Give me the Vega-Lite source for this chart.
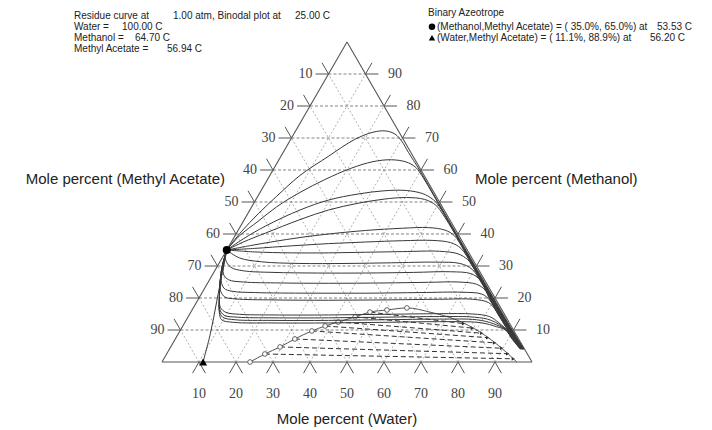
{
"$schema": "https://vega.github.io/schema/vega-lite/v6.json",
"autosize": {"type": "none"},
"width": 370, "height": 320,
"padding": {"left": 162, "top": 42, "right": 180, "bottom": 68},
"background": "white",
"config": {"view": {"stroke": null}},
"datasets": {
"frame": [{"x":0,"y":0,"x2":100,"y2":0},{"x":0,"y":0,"x2":50,"y2":100},{"x":100,"y":0,"x2":50,"y2":100}],
"gridH": [{"x":5,"y":10,"x2":95,"y2":10},{"x":10,"y":20,"x2":90,"y2":20},{"x":15,"y":30,"x2":85,"y2":30},{"x":20,"y":40,"x2":80,"y2":40},{"x":25,"y":50,"x2":75,"y2":50},{"x":30,"y":60,"x2":70,"y2":60},{"x":35,"y":70,"x2":65,"y2":70},{"x":40,"y":80,"x2":60,"y2":80},{"x":45,"y":90,"x2":55,"y2":90}],
"gridD": [{"x":10,"y":0,"x2":55,"y2":90},{"x":20,"y":0,"x2":60,"y2":80},{"x":30,"y":0,"x2":65,"y2":70},{"x":40,"y":0,"x2":70,"y2":60},{"x":50,"y":0,"x2":75,"y2":50},{"x":60,"y":0,"x2":80,"y2":40},{"x":70,"y":0,"x2":85,"y2":30},{"x":80,"y":0,"x2":90,"y2":20},{"x":90,"y":0,"x2":95,"y2":10},
{"x":10,"y":0,"x2":5,"y2":10},{"x":20,"y":0,"x2":10,"y2":20},{"x":30,"y":0,"x2":15,"y2":30},{"x":40,"y":0,"x2":20,"y2":40},{"x":50,"y":0,"x2":25,"y2":50},{"x":60,"y":0,"x2":30,"y2":60},{"x":70,"y":0,"x2":35,"y2":70},{"x":80,"y":0,"x2":40,"y2":80},{"x":90,"y":0,"x2":45,"y2":90}],
"ticks": [
{"x":1.5,"y":10,"x2":5,"y2":10},{"x":6.5,"y":20,"x2":10,"y2":20},{"x":11.5,"y":30,"x2":15,"y2":30},{"x":16.5,"y":40,"x2":20,"y2":40},{"x":21.5,"y":50,"x2":25,"y2":50},{"x":26.5,"y":60,"x2":30,"y2":60},{"x":31.5,"y":70,"x2":35,"y2":70},{"x":36.5,"y":80,"x2":40,"y2":80},{"x":41.5,"y":90,"x2":45,"y2":90},
{"x":5,"y":10,"x2":3.25,"y2":13.5},{"x":10,"y":20,"x2":8.25,"y2":23.5},{"x":15,"y":30,"x2":13.25,"y2":33.5},{"x":20,"y":40,"x2":18.25,"y2":43.5},{"x":25,"y":50,"x2":23.25,"y2":53.5},{"x":30,"y":60,"x2":28.25,"y2":63.5},{"x":35,"y":70,"x2":33.25,"y2":73.5},{"x":40,"y":80,"x2":38.25,"y2":83.5},{"x":45,"y":90,"x2":43.25,"y2":93.5},
{"x":95,"y":10,"x2":98.5,"y2":10},{"x":90,"y":20,"x2":93.5,"y2":20},{"x":85,"y":30,"x2":88.5,"y2":30},{"x":80,"y":40,"x2":83.5,"y2":40},{"x":75,"y":50,"x2":78.5,"y2":50},{"x":70,"y":60,"x2":73.5,"y2":60},{"x":65,"y":70,"x2":68.5,"y2":70},{"x":60,"y":80,"x2":63.5,"y2":80},{"x":55,"y":90,"x2":58.5,"y2":90},
{"x":95,"y":10,"x2":96.75,"y2":13.5},{"x":90,"y":20,"x2":91.75,"y2":23.5},{"x":85,"y":30,"x2":86.75,"y2":33.5},{"x":80,"y":40,"x2":81.75,"y2":43.5},{"x":75,"y":50,"x2":76.75,"y2":53.5},{"x":70,"y":60,"x2":71.75,"y2":63.5},{"x":65,"y":70,"x2":66.75,"y2":73.5},{"x":60,"y":80,"x2":61.75,"y2":83.5},{"x":55,"y":90,"x2":56.75,"y2":93.5},
{"x":10,"y":0,"x2":8.25,"y2":-3.5},{"x":20,"y":0,"x2":18.25,"y2":-3.5},{"x":30,"y":0,"x2":28.25,"y2":-3.5},{"x":40,"y":0,"x2":38.25,"y2":-3.5},{"x":50,"y":0,"x2":48.25,"y2":-3.5},{"x":60,"y":0,"x2":58.25,"y2":-3.5},{"x":70,"y":0,"x2":68.25,"y2":-3.5},{"x":80,"y":0,"x2":78.25,"y2":-3.5},{"x":90,"y":0,"x2":88.25,"y2":-3.5},
{"x":10,"y":0,"x2":11.75,"y2":-3.5},{"x":20,"y":0,"x2":21.75,"y2":-3.5},{"x":30,"y":0,"x2":31.75,"y2":-3.5},{"x":40,"y":0,"x2":41.75,"y2":-3.5},{"x":50,"y":0,"x2":51.75,"y2":-3.5},{"x":60,"y":0,"x2":61.75,"y2":-3.5},{"x":70,"y":0,"x2":71.75,"y2":-3.5},{"x":80,"y":0,"x2":81.75,"y2":-3.5},{"x":90,"y":0,"x2":91.75,"y2":-3.5}],
"labelsL": [{"x":0.7,"y":10,"t":"90"},{"x":5.7,"y":20,"t":"80"},{"x":10.7,"y":30,"t":"70"},{"x":15.7,"y":40,"t":"60"},{"x":20.7,"y":50,"t":"50"},{"x":25.7,"y":60,"t":"40"},{"x":30.7,"y":70,"t":"30"},{"x":35.7,"y":80,"t":"20"},{"x":40.7,"y":90,"t":"10"}],
"labelsR": [{"x":101.1,"y":10,"t":"10"},{"x":96.1,"y":20,"t":"20"},{"x":91.1,"y":30,"t":"30"},{"x":86.1,"y":40,"t":"40"},{"x":81.1,"y":50,"t":"50"},{"x":76.1,"y":60,"t":"60"},{"x":71.1,"y":70,"t":"70"},{"x":66.1,"y":80,"t":"80"},{"x":61.1,"y":90,"t":"90"}],
"labelsB": [{"x":10,"y":-10.1,"t":"10"},{"x":20,"y":-10.1,"t":"20"},{"x":30,"y":-10.1,"t":"30"},{"x":40,"y":-10.1,"t":"40"},{"x":50,"y":-10.1,"t":"50"},{"x":60,"y":-10.1,"t":"60"},{"x":70,"y":-10.1,"t":"70"},{"x":80,"y":-10.1,"t":"80"},{"x":90,"y":-10.1,"t":"90"}],
"titleL": [{"x":17.03,"y":57.2,"t":"Mole percent (Methyl Acetate)"}],
"titleR": [{"x":84.6,"y":57.2,"t":"Mole percent (Methanol)"}],
"titleB": [{"x":50,"y":-17.8,"t":"Mole percent (Water)"}],
"header": [
{"x":-23.78,"y":108.2,"t":"Residue curve at"},{"x":2.97,"y":108.2,"t":"1.00 atm, Binodal plot at"},{"x":35.95,"y":108.2,"t":"25.00 C"},
{"x":-23.78,"y":104.78,"t":"Water ="},{"x":-10.81,"y":104.78,"t":"100.00 C"},
{"x":-23.78,"y":101.34,"t":"Methanol ="},{"x":-7.3,"y":101.34,"t":"64.70 C"},
{"x":-23.78,"y":97.81,"t":"Methyl Acetate ="},{"x":1.35,"y":97.81,"t":"56.94 C"},
{"x":71.89,"y":108.97,"t":"Binary Azeotrope"},
{"x":74.32,"y":104.78,"t":"(Methanol,Methyl Acetate) = ( 35.0%, 65.0%) at"},{"x":133.78,"y":104.78,"t":"53.53 C"},
{"x":74.32,"y":101.34,"t":"(Water,Methyl Acetate) = ( 11.1%, 88.9%) at"},{"x":131.89,"y":101.34,"t":"56.20 C"}],
"azeo": [{"x":17.5,"y":35,"kind":"circle"},{"x":11.1,"y":0,"kind":"triangle"}],
"legendMarks": [{"x":72.97,"y":104.78,"kind":"circle"},{"x":72.97,"y":101.34,"kind":"triangle"}],
"binodal": [
{"x":23.8,"y":0,"b":"L"},{"x":27.8,"y":2.5,"b":"L"},{"x":31.9,"y":4.7,"b":"L"},{"x":35.9,"y":7.2,"b":"L"},{"x":40.5,"y":9.7,"b":"L"},{"x":44.1,"y":11.25,"b":"L"},{"x":47.6,"y":12.5,"b":"L"},{"x":52.2,"y":14.1,"b":"L"},{"x":56.2,"y":15.6,"b":"L"},{"x":60.8,"y":16.25,"b":"L"},{"x":66.2,"y":16.9,"b":"L"},
{"x":72.4,"y":15.6,"b":"R"},{"x":79.7,"y":13.1,"b":"R"},{"x":85.9,"y":9.4,"b":"R"},{"x":91.4,"y":4.7,"b":"R"},{"x":95.9,"y":0,"b":"R"}],
"ties": [
{"x":27.8,"y":2.5,"x2":94.94,"y2":1.0},{"x":31.9,"y":4.7,"x2":93.41,"y2":2.6},{"x":35.9,"y":7.2,"x2":91.79,"y2":4.3},{"x":40.5,"y":9.7,"x2":89.88,"y2":6.0},{"x":44.1,"y":11.25,"x2":88.0,"y2":7.6},{"x":47.6,"y":12.5,"x2":86.4,"y2":9.0},{"x":52.2,"y":14.1,"x2":83.9,"y2":10.6},{"x":56.2,"y":15.6,"x2":81.5,"y2":12.0}],
"curves": [
{"c":"C0","x":17.5,"y":35},{"c":"C0","x":16.3,"y":28},{"c":"C0","x":14.8,"y":19},{"c":"C0","x":13.1,"y":9},{"c":"C0","x":11.1,"y":0},
{"c":"C1","x":17.5,"y":35},{"c":"C1","x":21.5,"y":40.8},{"c":"C1","x":26,"y":46.3},{"c":"C1","x":31,"y":51.8},{"c":"C1","x":37.3,"y":58.3},{"c":"C1","x":45,"y":64.3},{"c":"C1","x":52,"y":69.5},{"c":"C1","x":57,"y":71.8},{"c":"C1","x":60.5,"y":72.2},{"c":"C1","x":63,"y":71.2},{"c":"C1","x":64.8,"y":69},{"c":"C1","x":66.6,"y":65.5},{"c":"C1","x":69.6,"y":60},{"c":"C1","x":74.6,"y":50},{"c":"C1","x":79.6,"y":40},{"c":"C1","x":84.6,"y":30},{"c":"C1","x":89.6,"y":20},{"c":"C1","x":92.1,"y":15},{"c":"C1","x":94.66,"y":10},{"c":"C1","x":96.22,"y":7},{"c":"C1","x":97.82,"y":4},
{"c":"C2","x":17.5,"y":35},{"c":"C2","x":21,"y":39.5},{"c":"C2","x":26,"y":44},{"c":"C2","x":31,"y":48.5},{"c":"C2","x":37.3,"y":53},{"c":"C2","x":44,"y":57},{"c":"C2","x":51,"y":60.5},{"c":"C2","x":57,"y":62.6},{"c":"C2","x":62,"y":63.2},{"c":"C2","x":66,"y":62.5},{"c":"C2","x":68.4,"y":61},{"c":"C2","x":69.8,"y":59},{"c":"C2","x":74.45,"y":50},{"c":"C2","x":79.45,"y":40},{"c":"C2","x":84.45,"y":30},{"c":"C2","x":89.45,"y":20},{"c":"C2","x":91.95,"y":15},{"c":"C2","x":94.53,"y":10},{"c":"C2","x":96.12,"y":7},{"c":"C2","x":97.75,"y":4},
{"c":"C3","x":17.5,"y":35},{"c":"C3","x":22,"y":38.5},{"c":"C3","x":28,"y":42.5},{"c":"C3","x":37.3,"y":47.5},{"c":"C3","x":45,"y":50.6},{"c":"C3","x":53,"y":52.5},{"c":"C3","x":60,"y":53.5},{"c":"C3","x":66,"y":53.6},{"c":"C3","x":70.5,"y":52.6},{"c":"C3","x":73,"y":51},{"c":"C3","x":74.5,"y":49.3},{"c":"C3","x":79.3,"y":40},{"c":"C3","x":84.3,"y":30},{"c":"C3","x":89.3,"y":20},{"c":"C3","x":91.8,"y":15},{"c":"C3","x":94.4,"y":10},{"c":"C3","x":96.01,"y":7},{"c":"C3","x":97.69,"y":4},
{"c":"C4","x":17.5,"y":35},{"c":"C4","x":22,"y":37.5},{"c":"C4","x":28,"y":40.3},{"c":"C4","x":37.3,"y":44.5},{"c":"C4","x":45,"y":47.5},{"c":"C4","x":53,"y":49.6},{"c":"C4","x":60,"y":50.9},{"c":"C4","x":66,"y":51.4},{"c":"C4","x":71,"y":50.8},{"c":"C4","x":74,"y":49},{"c":"C4","x":76,"y":46},{"c":"C4","x":79.2,"y":40},{"c":"C4","x":84.2,"y":30},{"c":"C4","x":89.2,"y":20},{"c":"C4","x":91.7,"y":15},{"c":"C4","x":94.32,"y":10},{"c":"C4","x":95.94,"y":7},{"c":"C4","x":97.64,"y":4},
{"c":"C5","x":17.5,"y":35},{"c":"C5","x":24,"y":36.4},{"c":"C5","x":30,"y":37.6},{"c":"C5","x":37.3,"y":38.9},{"c":"C5","x":45,"y":40},{"c":"C5","x":55,"y":41.1},{"c":"C5","x":65,"y":41.8},{"c":"C5","x":72,"y":42},{"c":"C5","x":76.5,"y":41.2},{"c":"C5","x":79,"y":39.5},{"c":"C5","x":81.55,"y":35},{"c":"C5","x":84.05,"y":30},{"c":"C5","x":89.05,"y":20},{"c":"C5","x":91.55,"y":15},{"c":"C5","x":94.19,"y":10},{"c":"C5","x":95.84,"y":7},{"c":"C5","x":97.57,"y":4},
{"c":"C6","x":17.5,"y":35},{"c":"C6","x":25,"y":35.5},{"c":"C6","x":35,"y":36.3},{"c":"C6","x":45,"y":37},{"c":"C6","x":55,"y":37.5},{"c":"C6","x":65,"y":37.9},{"c":"C6","x":73,"y":38},{"c":"C6","x":78,"y":37.3},{"c":"C6","x":80.8,"y":35.5},{"c":"C6","x":83.95,"y":30},{"c":"C6","x":88.95,"y":20},{"c":"C6","x":91.45,"y":15},{"c":"C6","x":94.11,"y":10},{"c":"C6","x":95.77,"y":7},{"c":"C6","x":97.53,"y":4},
{"c":"C7","x":17.5,"y":35},{"c":"C7","x":25,"y":34.4},{"c":"C7","x":35,"y":34.1},{"c":"C7","x":45,"y":34.1},{"c":"C7","x":55,"y":34.3},{"c":"C7","x":65,"y":34.5},{"c":"C7","x":75,"y":34.6},{"c":"C7","x":80,"y":33.8},{"c":"C7","x":82.6,"y":32},{"c":"C7","x":83.85,"y":30},{"c":"C7","x":88.85,"y":20},{"c":"C7","x":91.35,"y":15},{"c":"C7","x":94.02,"y":10},{"c":"C7","x":95.7,"y":7},{"c":"C7","x":97.48,"y":4},
{"c":"C8","x":17.5,"y":35},{"c":"C8","x":21,"y":32.5},{"c":"C8","x":27,"y":31.3},{"c":"C8","x":37,"y":30.8},{"c":"C8","x":50,"y":30.8},{"c":"C8","x":62,"y":31},{"c":"C8","x":74,"y":31.2},{"c":"C8","x":80.5,"y":30.8},{"c":"C8","x":83.8,"y":29},{"c":"C8","x":86.2,"y":25},{"c":"C8","x":88.7,"y":20},{"c":"C8","x":91.2,"y":15},{"c":"C8","x":93.9,"y":10},{"c":"C8","x":95.59,"y":7},{"c":"C8","x":97.42,"y":4},
{"c":"C9","x":17.5,"y":35},{"c":"C9","x":17.2,"y":32},{"c":"C9","x":18.6,"y":29.6},{"c":"C9","x":22,"y":28.5},{"c":"C9","x":30,"y":28},{"c":"C9","x":42,"y":27.8},{"c":"C9","x":55,"y":27.8},{"c":"C9","x":68,"y":28},{"c":"C9","x":78,"y":28.2},{"c":"C9","x":83.5,"y":27.6},{"c":"C9","x":86,"y":25.6},{"c":"C9","x":88.55,"y":20},{"c":"C9","x":91.05,"y":15},{"c":"C9","x":93.77,"y":10},{"c":"C9","x":95.49,"y":7},{"c":"C9","x":97.35,"y":4},
{"c":"C10","x":17.5,"y":35},{"c":"C10","x":16.8,"y":31},{"c":"C10","x":16.6,"y":27.5},{"c":"C10","x":18,"y":25.7},{"c":"C10","x":22,"y":25},{"c":"C10","x":32,"y":24.7},{"c":"C10","x":45,"y":24.6},{"c":"C10","x":60,"y":24.7},{"c":"C10","x":72,"y":24.9},{"c":"C10","x":80,"y":25},{"c":"C10","x":85,"y":24.3},{"c":"C10","x":87.3,"y":22.5},{"c":"C10","x":88.4,"y":20},{"c":"C10","x":90.9,"y":15},{"c":"C10","x":93.64,"y":10},{"c":"C10","x":95.38,"y":7},{"c":"C10","x":97.28,"y":4},
{"c":"C11","x":17.5,"y":35},{"c":"C11","x":16.5,"y":30},{"c":"C11","x":16,"y":25.5},{"c":"C11","x":16.8,"y":23},{"c":"C11","x":19,"y":22.1},{"c":"C11","x":25,"y":21.7},{"c":"C11","x":40,"y":21.5},{"c":"C11","x":55,"y":21.5},{"c":"C11","x":70,"y":21.7},{"c":"C11","x":81,"y":21.8},{"c":"C11","x":86.5,"y":21.2},{"c":"C11","x":88.6,"y":19.3},{"c":"C11","x":90.75,"y":15},{"c":"C11","x":93.51,"y":10},{"c":"C11","x":95.28,"y":7},{"c":"C11","x":97.21,"y":4},
{"c":"C12","x":17.5,"y":35},{"c":"C12","x":16.4,"y":30},{"c":"C12","x":15.8,"y":25},{"c":"C12","x":15.9,"y":22},{"c":"C12","x":17,"y":20.3},{"c":"C12","x":20,"y":19.7},{"c":"C12","x":30,"y":19.4},{"c":"C12","x":45,"y":19.3},{"c":"C12","x":60,"y":19.4},{"c":"C12","x":75,"y":19.6},{"c":"C12","x":84,"y":19.6},{"c":"C12","x":88.2,"y":18.6},{"c":"C12","x":90,"y":16.5},{"c":"C12","x":93.39,"y":10},{"c":"C12","x":95.17,"y":7},{"c":"C12","x":97.15,"y":4},
{"c":"C13","x":17.5,"y":35},{"c":"C13","x":16.3,"y":30},{"c":"C13","x":15.7,"y":25},{"c":"C13","x":15.5,"y":20},{"c":"C13","x":15.8,"y":17},{"c":"C13","x":17.3,"y":15.5},{"c":"C13","x":21,"y":14.9},{"c":"C13","x":30,"y":14.7},{"c":"C13","x":45,"y":14.7},{"c":"C13","x":60,"y":14.9},{"c":"C13","x":75,"y":15.1},{"c":"C13","x":84,"y":15},{"c":"C13","x":88.5,"y":14.2},{"c":"C13","x":91,"y":12.3},{"c":"C13","x":93.2,"y":10},{"c":"C13","x":95.03,"y":7},{"c":"C13","x":97.06,"y":4},
{"c":"C14","x":17.5,"y":35},{"c":"C14","x":16.3,"y":30},{"c":"C14","x":15.7,"y":25},{"c":"C14","x":15.5,"y":20},{"c":"C14","x":15.6,"y":16.5},{"c":"C14","x":16.8,"y":14.6},{"c":"C14","x":20.5,"y":14},{"c":"C14","x":30,"y":13.8},{"c":"C14","x":45,"y":13.8},{"c":"C14","x":60,"y":14},{"c":"C14","x":75,"y":14.2},{"c":"C14","x":84.5,"y":14},{"c":"C14","x":89,"y":13},{"c":"C14","x":93.09,"y":10},{"c":"C14","x":94.93,"y":7},{"c":"C14","x":96.99,"y":4},
{"c":"C15","x":17.5,"y":35},{"c":"C15","x":16.3,"y":30},{"c":"C15","x":15.7,"y":25},{"c":"C15","x":15.5,"y":20},{"c":"C15","x":15.5,"y":16},{"c":"C15","x":16.4,"y":14},{"c":"C15","x":19.8,"y":13.2},{"c":"C15","x":30,"y":13},{"c":"C15","x":45,"y":13},{"c":"C15","x":60,"y":13.2},{"c":"C15","x":75,"y":13.4},{"c":"C15","x":85,"y":13.2},{"c":"C15","x":89.5,"y":12},{"c":"C15","x":92.96,"y":10},{"c":"C15","x":94.82,"y":7},{"c":"C15","x":96.92,"y":4},
{"c":"C16","x":17.5,"y":35},{"c":"C16","x":16.3,"y":30},{"c":"C16","x":15.7,"y":25},{"c":"C16","x":15.5,"y":20},{"c":"C16","x":15.5,"y":15.5},{"c":"C16","x":16.1,"y":13.2},{"c":"C16","x":19.3,"y":12.4},{"c":"C16","x":30,"y":12.2},{"c":"C16","x":45,"y":12.2},{"c":"C16","x":60,"y":12.4},{"c":"C16","x":75,"y":12.6},{"c":"C16","x":86,"y":12.3},{"c":"C16","x":90.5,"y":11},{"c":"C16","x":92.83,"y":10},{"c":"C16","x":94.72,"y":7},{"c":"C16","x":96.85,"y":4}]
},
"encoding": {
"x": {"field": "x", "type": "quantitative", "scale": {"domain": [0, 100], "nice": false, "zero": false}, "axis": null},
"y": {"field": "y", "type": "quantitative", "scale": {"domain": [0, 100], "nice": false, "zero": false}, "axis": null}
},
"layer": [
{"data": {"name": "gridD"}, "mark": {"type": "rule", "stroke": "#9a9a9a", "strokeWidth": 0.8, "strokeDash": [2, 2]}, "encoding": {"x2": {"field": "x2"}, "y2": {"field": "y2"}}},
{"data": {"name": "gridH"}, "mark": {"type": "rule", "stroke": "#777777", "strokeWidth": 0.9, "strokeDash": [3, 2]}, "encoding": {"x2": {"field": "x2"}, "y2": {"field": "y2"}}},
{"data": {"name": "frame"}, "mark": {"type": "rule", "stroke": "#555555", "strokeWidth": 1.1}, "encoding": {"x2": {"field": "x2"}, "y2": {"field": "y2"}}},
{"data": {"name": "ticks"}, "mark": {"type": "rule", "stroke": "#555555", "strokeWidth": 1}, "encoding": {"x2": {"field": "x2"}, "y2": {"field": "y2"}}},
{"data": {"name": "ties"}, "mark": {"type": "rule", "stroke": "#333333", "strokeWidth": 1, "strokeDash": [5, 3]}, "encoding": {"x2": {"field": "x2"}, "y2": {"field": "y2"}}},
{"data": {"name": "ties"}, "mark": {"type": "point", "shape": "triangle-right", "filled": true, "color": "#222222", "size": 14, "opacity": 1}, "encoding": {"x": {"field": "x2", "type": "quantitative"}, "y": {"field": "y2", "type": "quantitative"}}},
{"data": {"name": "binodal"}, "mark": {"type": "line", "interpolate": "monotone", "stroke": "#555555", "strokeWidth": 1}, "encoding": {}},
{"data": {"name": "binodal"}, "transform": [{"filter": "datum.b == 'L'"}], "mark": {"type": "point", "shape": "circle", "filled": true, "fill": "white", "stroke": "#555555", "strokeWidth": 0.9, "size": 22, "opacity": 1}, "encoding": {}},
{"data": {"name": "curves"}, "mark": {"type": "line", "interpolate": "catmull-rom", "stroke": "#383838", "strokeWidth": 1}, "encoding": {"detail": {"field": "c", "type": "nominal"}, "order": {"value": null}}},
{"data": {"name": "azeo"}, "mark": {"type": "point", "filled": true, "color": "black", "opacity": 1}, "encoding": {"shape": {"field": "kind", "type": "nominal", "scale": {"domain": ["circle", "triangle"], "range": ["circle", "triangle-up"]}, "legend": null}, "size": {"value": 65}}},
{"data": {"name": "legendMarks"}, "mark": {"type": "point", "filled": true, "color": "black", "opacity": 1}, "encoding": {"shape": {"field": "kind", "type": "nominal", "scale": {"domain": ["circle", "triangle"], "range": ["circle", "triangle-up"]}, "legend": null}, "size": {"value": 42}}},
{"data": {"name": "labelsL"}, "mark": {"type": "text", "align": "right", "baseline": "middle", "font": "Liberation Serif", "fontSize": 14, "color": "#444444"}, "encoding": {"text": {"field": "t"}}},
{"data": {"name": "labelsR"}, "mark": {"type": "text", "align": "left", "baseline": "middle", "font": "Liberation Serif", "fontSize": 14, "color": "#444444"}, "encoding": {"text": {"field": "t"}}},
{"data": {"name": "labelsB"}, "mark": {"type": "text", "align": "center", "baseline": "middle", "font": "Liberation Serif", "fontSize": 14, "color": "#444444"}, "encoding": {"text": {"field": "t"}}},
{"data": {"name": "titleL"}, "mark": {"type": "text", "align": "right", "baseline": "middle", "font": "Liberation Sans", "fontSize": 15, "color": "#222222"}, "encoding": {"text": {"field": "t"}}},
{"data": {"name": "titleR"}, "mark": {"type": "text", "align": "left", "baseline": "middle", "font": "Liberation Sans", "fontSize": 15, "color": "#222222"}, "encoding": {"text": {"field": "t"}}},
{"data": {"name": "titleB"}, "mark": {"type": "text", "align": "center", "baseline": "middle", "font": "Liberation Sans", "fontSize": 15, "color": "#222222"}, "encoding": {"text": {"field": "t"}}},
{"data": {"name": "header"}, "mark": {"type": "text", "align": "left", "baseline": "middle", "font": "Liberation Sans", "fontSize": 10, "color": "#222222"}, "encoding": {"text": {"field": "t"}}}
]
}
